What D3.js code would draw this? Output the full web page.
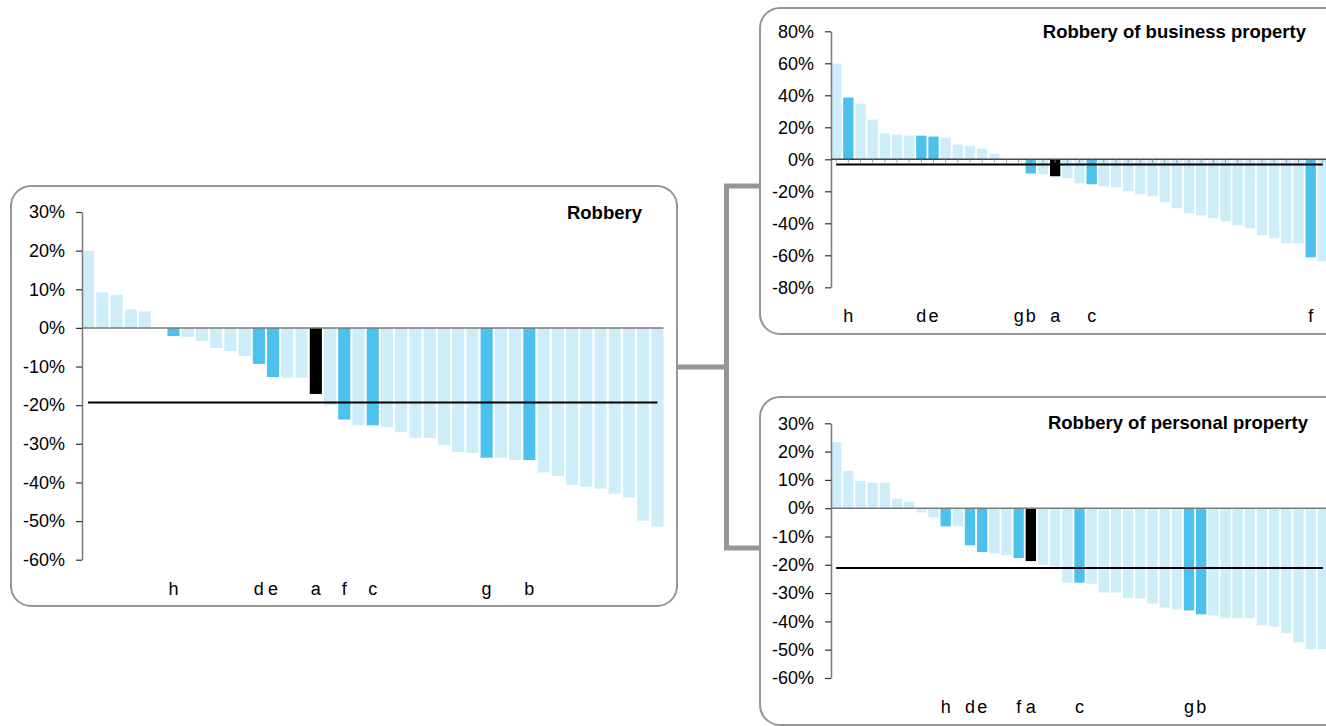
<!DOCTYPE html>
<html><head><meta charset="utf-8">
<script src="https://cdn.jsdelivr.net/npm/d3@7"></script>
<style>
body{margin:0;background:#fff;}
svg{display:block;font-family:"Liberation Sans",Arial,sans-serif;}
</style></head><body>
<svg id="chart" width="1326" height="726"></svg>
<script>
// ---------- DATA ----------
const robberyValues = [20, 9.2, 8.6, 4.8, 4.3, 0, -2.1, -2.3, -3.4, -5.2, -6.0, -7.3, -9.3, -12.7, -12.9, -12.9, -17.1, -20.0, -23.7, -25.2, -25.2, -25.7, -27.0, -28.5, -28.5, -30.3, -32.1, -32.4, -33.6, -33.6, -34.2, -34.2, -37.4, -38.3, -40.6, -41.1, -41.6, -42.9, -43.9, -49.9, -51.4];
const robberyLabels = ['', '', '', '', '', '', 'h', '', '', '', '', '', 'd', 'e', '', '', 'a', '', 'f', '', 'c', '', '', '', '', '', '', '', 'g', '', '', 'b', '', '', '', '', '', '', '', '', ''];
const robberyRef = -19.3;
const robberyTicks = [30, 20, 10, 0, -10, -20, -30, -40, -50, -60];

const businessValues = [59.8, 38.6, 34.8, 24.8, 16.1, 15.4, 14.8, 14.8, 14.2, 13.6, 9.2, 8.5, 6.7, 3.6, -0.3, -0.5, -8.9, -9.4, -10.6, -11.8, -15.0, -15.6, -16.9, -17.5, -20.0, -21.9, -23.1, -26.9, -30.6, -33.8, -35.0, -36.9, -38.8, -41.2, -43.1, -47.5, -49.4, -52.5, -52.5, -61.3, -63.8];
const businessLabels = ['', 'h', '', '', '', '', '', 'd', 'e', '', '', '', '', '', '', 'g', 'b', '', 'a', '', '', 'c', '', '', '', '', '', '', '', '', '', '', '', '', '', '', '', '', '', 'f', ''];
const businessRef = -3.3;
const businessTicks = [80, 60, 40, 20, 0, -20, -40, -60, -80];

const personalValues = [23.4, 13.2, 9.7, 9.0, 9.0, 3.4, 2.3, -1.5, -3.3, -6.4, -6.4, -13.1, -15.5, -15.9, -16.6, -17.6, -18.7, -20.1, -20.6, -26.3, -26.3, -26.7, -29.8, -29.8, -31.6, -31.9, -33.7, -35.1, -35.8, -36.1, -37.5, -37.9, -38.9, -38.9, -38.9, -41.4, -41.8, -44.2, -47.4, -49.8, -49.8];
const personalLabels = ['', '', '', '', '', '', '', '', '', 'h', '', 'd', 'e', '', '', 'f', 'a', '', '', '', 'c', '', '', '', '', '', '', '', '', 'g', 'b', '', '', '', '', '', '', '', '', '', ''];
const personalRef = -21.1;
const personalTicks = [30, 20, 10, 0, -10, -20, -30, -40, -50, -60];

const titles = ['Robbery', 'Robbery of business property', 'Robbery of personal property'];

// ---------- STYLE ----------
const LIGHT = '#cdedf9';
const DARK = '#4bc1eb';
const MARK = '#000000';
const FRAME = '#969696';

const svg = d3.select('#chart');

// panels
const panels = [
  {x: 11, y: 186, w: 666, h: 420},
  {x: 760, y: 8, w: 620, h: 326},
  {x: 760, y: 397, w: 620, h: 328}
];
svg.selectAll('rect.panel').data(panels).join('rect')
  .attr('class', 'panel')
  .attr('x', d => d.x).attr('y', d => d.y)
  .attr('width', d => d.w).attr('height', d => d.h)
  .attr('rx', 20).attr('ry', 20)
  .attr('fill', '#fff').attr('stroke', FRAME).attr('stroke-width', 2);

// connector
svg.append('path')
  .attr('d', 'M760,186 H726.5 V548 H760 M677,367 H726.5')
  .attr('fill', 'none').attr('stroke', FRAME).attr('stroke-width', 5);

function drawChart(cfg) {
  const {values, labels, ref, ticks, yDomain, xRange, yRange, title, titleX, titleY, zeroColor, centerTicks} = cfg;
  const g = svg.append('g');
  const idx = values.map((_, i) => i);
  const x = d3.scaleBand().domain(idx).range(xRange).paddingInner(0.15).paddingOuter(0);
  const y = d3.scaleLinear().domain(yDomain).range(yRange);
  const bw = x.bandwidth();

  // bars
  g.selectAll('rect.bar').data(values).join('rect')
    .attr('class', 'bar')
    .attr('x', (d, i) => x(i))
    .attr('width', bw)
    .attr('y', d => y(Math.max(0, d)))
    .attr('height', d => Math.abs(y(d) - y(0)))
    .attr('fill', (d, i) => labels[i] === 'a' ? MARK : (labels[i] ? DARK : LIGHT));

  // y axis
  const axis = d3.axisLeft(y).tickValues(ticks).tickSize(6).tickSizeOuter(0).tickPadding(11)
    .tickFormat(d => d + '%');
  const ag = g.append('g').attr('transform', `translate(${xRange[0]},0)`).call(axis);
  ag.attr('font-family', null).attr('font-size', null);
  ag.select('.domain').attr('stroke', '#7a7a7a').attr('stroke-width', 1.5);
  ag.selectAll('.tick line').attr('stroke', '#333').attr('stroke-width', 1.2);
  ag.selectAll('.tick text').attr('fill', '#000').style('font-size', '18px');

  // zero line
  g.append('line')
    .attr('x1', xRange[0]).attr('x2', xRange[1])
    .attr('y1', y(0)).attr('y2', y(0))
    .attr('stroke', zeroColor).attr('stroke-width', 1.5);

  if (centerTicks) {
    g.selectAll('line.ctick').data(idx).join('line')
      .attr('class', 'ctick')
      .attr('x1', i => x(i) + bw / 2).attr('x2', i => x(i) + bw / 2)
      .attr('y1', y(0)).attr('y2', y(0) + 3.5)
      .attr('stroke', '#888').attr('stroke-width', 0.8);
  }

  // reference line
  g.append('line')
    .attr('x1', x(0) + bw / 2).attr('x2', x(idx.length - 1) + bw / 2)
    .attr('y1', y(ref)).attr('y2', y(ref))
    .attr('stroke', '#000').attr('stroke-width', 2);

  // category labels
  g.selectAll('text.cat').data(idx.filter(i => labels[i])).join('text')
    .attr('class', 'cat')
    .attr('x', i => x(i) + bw / 2)
    .attr('y', yRange[0] + 35)
    .attr('text-anchor', 'middle')
    .style('font-size', '18px')
    .attr('fill', '#000')
    .text(i => labels[i]);

  // title
  g.append('text')
    .attr('x', titleX).attr('y', titleY)
    .attr('text-anchor', 'end')
    .style('font-size', '18.5px').style('font-weight', 'bold')
    .attr('fill', '#000')
    .text(title);
}

drawChart({values: robberyValues, labels: robberyLabels, ref: robberyRef, ticks: robberyTicks,
  yDomain: [-60, 30], xRange: [82, 663.5], yRange: [559.7, 212],
  title: titles[0], titleX: 642, titleY: 219, zeroColor: '#7a7a7a', centerTicks: false});

drawChart({values: businessValues, labels: businessLabels, ref: businessRef, ticks: businessTicks,
  yDomain: [-80, 80], xRange: [831, 1328], yRange: [287.3, 31.3],
  title: titles[1], titleX: 1306, titleY: 38, zeroColor: '#444', centerTicks: true});

drawChart({values: personalValues, labels: personalLabels, ref: personalRef, ticks: personalTicks,
  yDomain: [-60, 30], xRange: [831, 1328], yRange: [678, 423.3],
  title: titles[2], titleX: 1308, titleY: 429, zeroColor: '#7a7a7a', centerTicks: false});
</script>
</body></html>
